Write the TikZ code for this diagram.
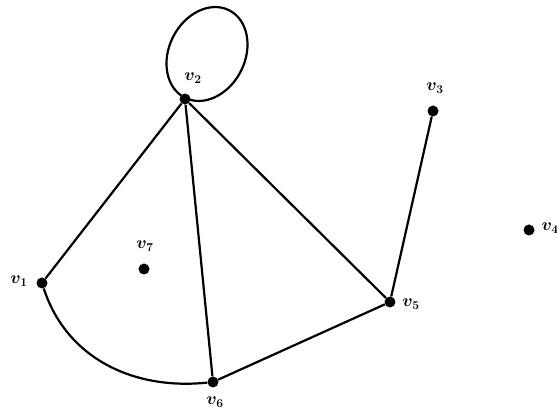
\documentclass[tikz,border=0pt]{standalone}
\begin{document}
\begin{tikzpicture}[x=1pt,y=-1pt,
  vtx/.style={circle,fill=black,inner sep=0pt,minimum size=11pt},
  lbl/.style={font=\LARGE\boldmath},
  edge/.style={line width=2.2pt}]
\useasboundingbox (0,0) rectangle (557,411);
\node[vtx] (v1) at (42,283) {};
\node[vtx] (v2) at (185,99) {};
\node[vtx] (v3) at (433,111) {};
\node[vtx] (v4) at (529,230) {};
\node[vtx] (v5) at (390,302) {};
\node[vtx] (v6) at (213,382) {};
\node[vtx] (v7) at (144,269) {};
\node[lbl] (l1) at (19,281) {$v_1$};
\node[lbl] (l2) at (193,78) {$v_2$};
\node[lbl] (l3) at (435,88) {$v_3$};
\node[lbl,anchor=west] (l4) at (538,228) {$v_4$};
\node[lbl] (l5) at (411,304) {$v_5$};
\node[lbl] (l6) at (215,402) {$v_6$};
\node[lbl] (l7) at (145,246) {$v_7$};
\draw[edge] (v1) -- (v2);
\draw[edge] (v2) -- (v6);
\draw[edge] (v2) -- (v5);
\draw[edge] (v5) -- (v6);
\draw[edge] (v3) -- (v5);
\draw[edge] (v1) to[out=-72,in=186] (v6);
\draw[edge] (207,54) ellipse[x radius=38,y radius=49,rotate=-27];
\end{tikzpicture}
\end{document}
